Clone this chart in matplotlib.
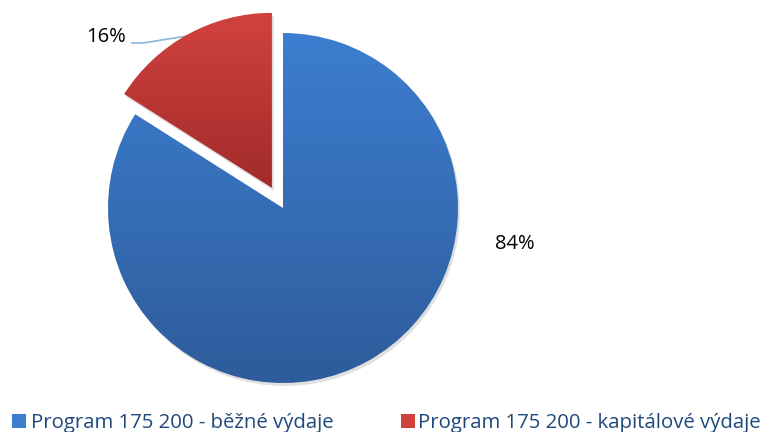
import numpy as np
import matplotlib.pyplot as plt
from matplotlib.colors import LinearSegmentedColormap
from matplotlib.patches import Rectangle

# data
categories = ['Program 175 200 - běžné výdaje', 'Program 175 200 - kapitálové výdaje']
shares = [84, 16]
explode = [0.0, 23.0]   # offset in pixel units (pie uses data units)

top_colors = ['#3d7ed0', '#d1423f']
bottom_colors = ['#2e5c9b', '#a12b2a']

plt.rcParams['font.family'] = ['Open Sans', 'DejaVu Sans']

fig = plt.figure(figsize=(7.73, 4.32), dpi=100)
ax = fig.add_axes([0, 0, 1, 1])
ax.set_xlim(0, 773)
ax.set_ylim(0, 432)
ax.set_aspect('equal')
ax.axis('off')

center = (283, 224)
radius = 175

# soft shadow
ax.pie(shares, explode=explode, startangle=90, counterclock=False,
       center=(center[0] + 2, center[1] - 3), radius=radius,
       colors=['#000000', '#000000'], wedgeprops=dict(alpha=0.12, linewidth=0))

wedges, _ = ax.pie(shares, explode=explode, startangle=90, counterclock=False,
                   center=center, radius=radius,
                   colors=['none', 'none'], wedgeprops=dict(linewidth=0))

# vertical gradient fill for each slice
grad = np.linspace(0, 1, 256).reshape(-1, 1)
for w, c_top, c_bot in zip(wedges, top_colors, bottom_colors):
    verts = w.get_path().vertices
    x0, y0 = verts.min(axis=0)
    x1, y1 = verts.max(axis=0)
    cmap = LinearSegmentedColormap.from_list('g', [c_bot, c_top])
    im = ax.imshow(grad, cmap=cmap, origin='lower', aspect='auto',
                   extent=(x0, x1, y0, y1), zorder=2)
    im.set_clip_path(w)

ax.set_xlim(0, 773)
ax.set_ylim(0, 432)

# data labels
ax.text(515, 188, f'{shares[0]}%', fontsize=14.5, ha='center', va='center', color='black')
ax.text(106, 395, f'{shares[1]}%', fontsize=14.5, ha='center', va='center', color='black')
ax.plot([132, 143, 187], [389, 389, 396], color='#8db3e2', linewidth=1.2, zorder=1)

# legend
leg_color = '#1f497d'
ax.add_patch(Rectangle((12, 4), 14, 14, facecolor=top_colors[0], edgecolor='none'))
ax.text(31, 4, categories[0], fontsize=14.7, color=leg_color, va='baseline', ha='left')
ax.add_patch(Rectangle((401, 4), 14, 14, facecolor=top_colors[1], edgecolor='none'))
ax.text(418, 4, categories[1], fontsize=14.7, color=leg_color, va='baseline', ha='left')

fig.savefig('out.png', dpi=100)
